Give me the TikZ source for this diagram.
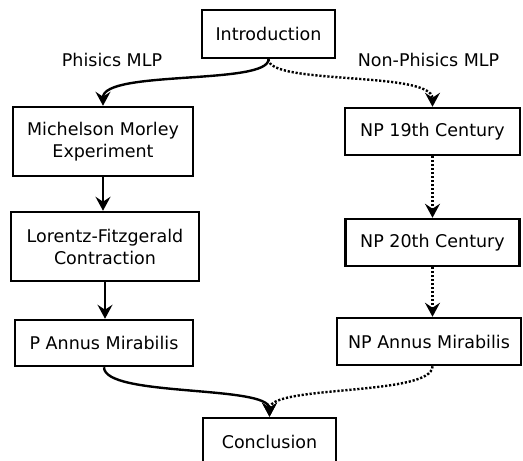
\documentclass[tikz,border=0pt]{standalone}
\usepackage{fontspec}
\setmainfont{DejaVu Sans}
\usetikzlibrary{arrows.meta}
\begin{document}
\begin{tikzpicture}[x=1pt,y=-1pt,
  box/.style={draw,line width=2.5pt,align=center,inner sep=0pt,
    font=\fontsize{17.5}{22}\selectfont},
  lbl/.style={font=\fontsize{17.5}{22}\selectfont},
  link/.style={line width=2.4pt,-{Stealth[length=14pt,width=15pt,inset=5pt]}},
  dotlink/.style={link,dash pattern=on 2.2pt off 1.8pt}]
\useasboundingbox (0,0) rectangle (523,461);
\node[box,minimum width=133pt,minimum height=48pt] (intro) at (268.5,34) {Introduction};
\node[box,minimum width=180pt,minimum height=69pt] (mm) at (103,141.5) {Michelson Morley\\Experiment};
\node[box,minimum width=175pt,minimum height=47pt] (np19) at (432.5,131.5) {NP 19th Century};
\node[box,minimum width=188pt,minimum height=69pt] (lf) at (105,246.5) {Lorentz-Fitzgerald\\Contraction};
\node[box,minimum width=174pt,minimum height=47pt] (np20) at (432.5,242.5) {NP 20th Century};
\node[box,minimum width=178pt,minimum height=46pt] (pam) at (104,343) {P Annus Mirabilis};
\node[box,minimum width=184pt,minimum height=47pt] (npam) at (429,341.5) {NP Annus Mirabilis};
\node[box,minimum width=133pt,minimum height=48pt] (concl) at (269.5,442) {Conclusion};
\node[lbl] (lp) at (112,60) {Phisics MLP};
\node[lbl] (lnp) at (428.5,60) {Non-Phisics MLP};
\draw[link] (intro.south) .. controls +(0,26) and +(0,-36) .. (mm.north);
\draw[dotlink] (intro.south) .. controls +(0,26) and +(0,-36) .. (np19.north);
\draw[link] (mm.south) -- (lf.north -| mm.south);
\draw[link] (lf.south) -- (pam.north -| lf.south);
\draw[dotlink] (np19.south) -- (np20.north);
\draw[dotlink] (np20.south) -- (npam.north -| np20.south);
\draw[link] (pam.south) .. controls +(0,30) and +(0,-32) .. (concl.north);
\draw[dotlink] (npam.south -| np20.south) .. controls +(0,30) and +(0,-32) .. (concl.north);
\end{tikzpicture}
\end{document}
